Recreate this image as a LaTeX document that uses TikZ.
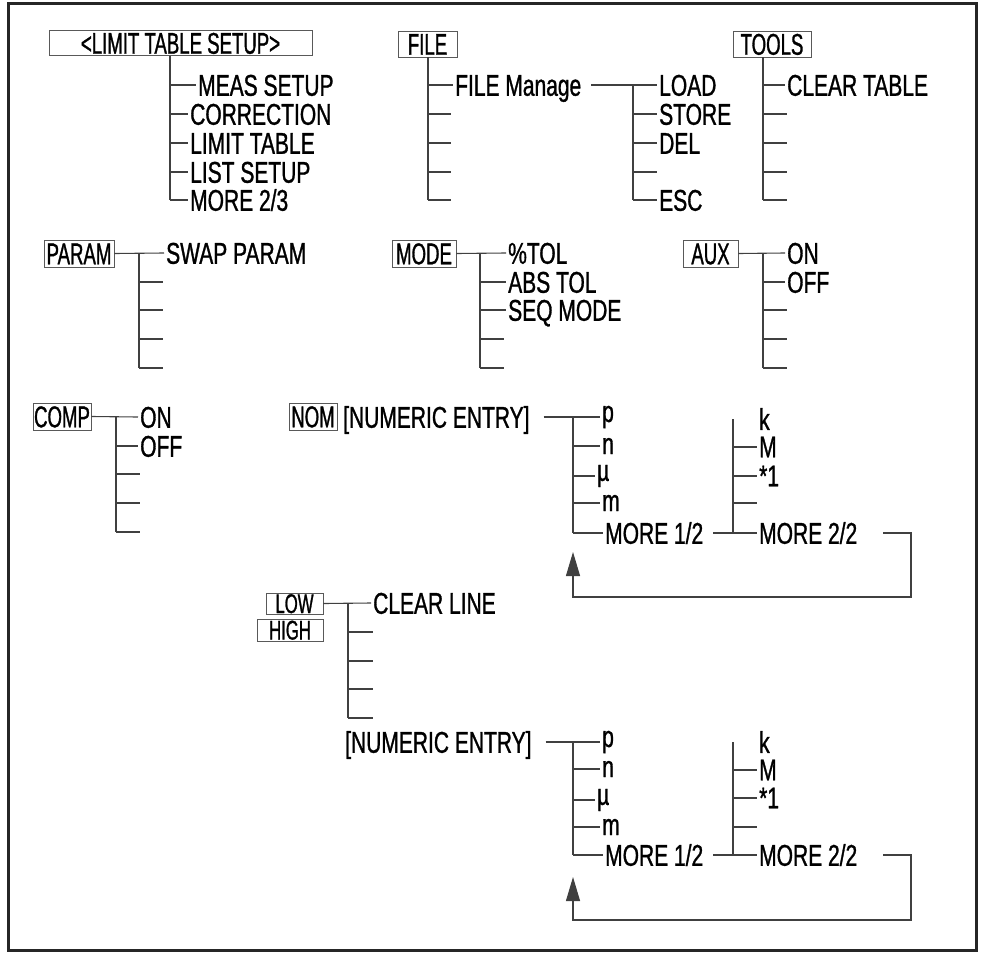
\documentclass[tikz,border=0pt]{standalone}
\usepackage{fontspec}
\setmainfont{Liberation Sans}[FakeStretch=0.7,FakeBold=1]
\newfontfamily\keyfont{Liberation Sans}[FakeStretch=0.62,FakeBold=1]
\usetikzlibrary{arrows.meta}
\begin{document}
\begin{tikzpicture}[x=1pt,y=-1pt,
  every node/.style={font=\fontsize{30}{30}\selectfont, text=black},
  lbl/.style={anchor=west,inner xsep=2pt,inner ysep=0pt,text height=21.5pt,text depth=0pt},
  lcl/.style={anchor=west,inner xsep=2pt,inner ysep=0pt},
  key/.style={draw=black!65,line width=0.9pt,inner sep=0pt,text height=21.5pt,text depth=0pt,font=\keyfont\fontsize{30}{30}\selectfont},
  smallkey/.style={key,text height=19pt,font=\keyfont\fontsize{27}{27}\selectfont},
  ln/.style={draw=black!75,line width=1.1pt},
  loopar/.style={arrows={-Triangle[length=24pt,width=14pt]}},
]
\useasboundingbox (0,0) rectangle (981,963);
\draw[line width=3pt,black!85] (8,4) rectangle (976,950);

% ---------- LIMIT TABLE SETUP ----------
\node[key,minimum width=263pt,minimum height=25pt] (lts) at (180.5,43) {<LIMIT TABLE SETUP>};
\coordinate (v1) at (170,200);
\node[lbl] (meas) at (196,85) {MEAS SETUP};
\node[lbl] (corr) at (188,114) {CORRECTION};
\node[lbl] (limt) at (188,143) {LIMIT TABLE};
\node[lbl] (lstp) at (188,172) {LIST SETUP};
\node[lbl] (mr23) at (188,200) {MORE 2/3};
\draw[ln] (lts.south -| v1) -- (v1);
\foreach \n in {meas,corr,limt,lstp,mr23} \draw[ln] (\n.west -| v1) -- (\n.west);

% ---------- FILE ----------
\node[key,minimum width=59pt,minimum height=26pt] (file) at (427.5,44) {FILE};
\coordinate (v2) at (428,200);
\node[lbl] (fm) at (453,85) {FILE Manage};
\coordinate (f2) at (451,114);
\coordinate (f3) at (451,143);
\coordinate (f4) at (451,172);
\coordinate (f5) at (451,200);
\draw[ln] (file.south -| v2) -- (v2);
\draw[ln] (fm.west -| v2) -- (fm.west);
\foreach \n in {f2,f3,f4,f5} \draw[ln] (\n -| v2) -- (\n);
\coordinate (v3) at (633,200);
\node[lbl] (load) at (657,85) {LOAD};
\node[lbl] (stor) at (657,114) {STORE};
\node[lbl] (del) at (657,143) {DEL};
\coordinate (g4) at (657,172);
\node[lbl] (esc) at (657,200) {ESC};
\draw[ln] ([xshift=8pt]fm.east) -- (load.west);
\draw[ln] (load.west -| v3) -- (v3);
\foreach \n in {stor,del,esc} \draw[ln] (\n.west -| v3) -- (\n.west);
\draw[ln] (g4 -| v3) -- (g4);

% ---------- TOOLS ----------
\node[key,minimum width=78pt,minimum height=26pt] (tools) at (772,44) {TOOLS};
\coordinate (v4) at (763,200);
\node[lbl] (clrt) at (785,85) {CLEAR TABLE};
\coordinate (t2) at (787,114);
\coordinate (t3) at (787,143);
\coordinate (t4) at (787,172);
\coordinate (t5) at (787,200);
\draw[ln] (tools.south -| v4) -- (v4);
\draw[ln] (clrt.west -| v4) -- (clrt.west);
\foreach \n in {t2,t3,t4,t5} \draw[ln] (\n -| v4) -- (\n);

% ---------- PARAM ----------
\node[key,minimum width=70pt,minimum height=27pt] (param) at (79,253.5) {PARAM};
\coordinate (v5) at (139,368);
\node[lbl] (swap) at (164,253) {SWAP PARAM};
\draw[ln] (param.east) -- (swap.west);
\draw[ln] (swap.west -| v5) -- (v5);
\foreach \y in {282,310,339,368} \draw[ln] (v5 |- 0,\y) -- (163,\y);

% ---------- MODE ----------
\node[key,minimum width=64pt,minimum height=27pt] (mode) at (424,253.5) {MODE};
\coordinate (v6) at (480,368);
\node[lbl] (ptol) at (506,253) {\%TOL};
\node[lbl] (atol) at (506,282) {ABS TOL};
\node[lbl] (seqm) at (506,310) {SEQ MODE};
\coordinate (o4) at (504,339);
\coordinate (o5) at (504,368);
\draw[ln] (mode.east) -- (ptol.west);
\draw[ln] (ptol.west -| v6) -- (v6);
\foreach \n in {atol,seqm} \draw[ln] (\n.west -| v6) -- (\n.west);
\foreach \n in {o4,o5} \draw[ln] (\n -| v6) -- (\n);

% ---------- AUX ----------
\node[key,minimum width=55pt,minimum height=27pt] (aux) at (710.5,253.5) {AUX};
\coordinate (v7) at (763,368);
\node[lbl] (aon) at (785,253) {ON};
\node[lbl] (aoff) at (785,282) {OFF};
\coordinate (a3) at (787,310);
\coordinate (a4) at (787,339);
\coordinate (a5) at (787,368);
\draw[ln] (aux.east) -- (aon.west);
\draw[ln] (aon.west -| v7) -- (v7);
\draw[ln] (aoff.west -| v7) -- (aoff.west);
\foreach \n in {a3,a4,a5} \draw[ln] (\n -| v7) -- (\n);

% ---------- COMP ----------
\node[key,minimum width=58pt,minimum height=27pt] (comp) at (62,416.5) {COMP};
\coordinate (v8) at (116,532);
\node[lbl] (con) at (138,417) {ON};
\node[lbl] (coff) at (138,446) {OFF};
\coordinate (c3) at (140,474);
\coordinate (c4) at (140,503);
\coordinate (c5) at (140,532);
\draw[ln] (comp.east) -- (con.west);
\draw[ln] (con.west -| v8) -- (v8);
\draw[ln] (coff.west -| v8) -- (coff.west);
\foreach \n in {c3,c4,c5} \draw[ln] (\n -| v8) -- (\n);

% ---------- NOM ----------
\node[key,minimum width=48pt,minimum height=27pt] (nom) at (313,416.5) {NOM};
\node[lbl] (ne1) at (341,417) {[NUMERIC ENTRY]};
\coordinate (v9) at (573,533);
\node[lcl] (p1) at (600,417) {p};
\node[lcl] (n1) at (600,446) {n};
\node[lcl] (mu1) at (595,476) {µ};
\node[lcl] (m1) at (600,503) {m};
\node[lbl] (mo1) at (603,533) {MORE 1/2};
\draw[ln] ([xshift=12pt]ne1.east) -- (p1.west);
\draw[ln] (p1.west -| v9) -- (v9);
\foreach \n in {n1,mu1,m1,mo1} \draw[ln] (\n.west -| v9) -- (\n.west);
\coordinate (v10) at (733,533);
\node[lcl] (k1) at (757,419) {k};
\node[lcl] (bm1) at (757,447) {M};
\node[lcl] (st1) at (757,476) {*1};
\coordinate (e1) at (757,503);
\node[lbl] (mo2) at (757,533) {MORE 2/2};
\draw[ln] ([xshift=8pt]mo1.east) -- (mo2.west);
\draw[ln] (k1.west -| v10) -- (v10);
\foreach \n in {bm1,st1} \draw[ln] (\n.west -| v10) -- (\n.west);
\draw[ln] (e1 -| v10) -- (e1);
\coordinate (la) at (883,533);
\coordinate (lb) at (911,597);
\coordinate (lt) at (573,552);
\draw[ln,loopar] (la) -| (lb) -| (lt);

% ---------- LOW / HIGH ----------
\node[smallkey,minimum width=57pt,minimum height=21pt] (low) at (294.5,603.5) {LOW};
\node[smallkey,minimum width=66pt,minimum height=22pt] (high) at (290,630) {HIGH};
\coordinate (v11) at (348,718);
\node[lbl] (clrl) at (371,603) {CLEAR LINE};
\draw[ln] (low.east) -- (clrl.west);
\draw[ln] (clrl.west -| v11) -- (v11);
\foreach \y in {632,661,689,718} \draw[ln] (v11 |- 0,\y) -- (373,\y);

% ---------- second NUMERIC ENTRY ----------
\node[lbl] (ne2) at (343,742) {[NUMERIC ENTRY]};
\coordinate (v12) at (573,855);
\node[lcl] (p2) at (600,742) {p};
\node[lcl] (n2) at (600,769) {n};
\node[lcl] (mu2) at (595,800) {µ};
\node[lcl] (m2) at (600,827) {m};
\node[lbl] (mo3) at (603,855) {MORE 1/2};
\draw[ln] ([xshift=12pt]ne2.east) -- (p2.west);
\draw[ln] (p2.west -| v12) -- (v12);
\foreach \n in {n2,mu2,m2,mo3} \draw[ln] (\n.west -| v12) -- (\n.west);
\coordinate (v13) at (733,855);
\node[lcl] (k2) at (757,742) {k};
\node[lcl] (bm2) at (757,770) {M};
\node[lcl] (st2) at (757,798) {*1};
\coordinate (e2) at (757,827);
\node[lbl] (mo4) at (757,855) {MORE 2/2};
\draw[ln] ([xshift=8pt]mo3.east) -- (mo4.west);
\draw[ln] (k2.west -| v13) -- (v13);
\foreach \n in {bm2,st2} \draw[ln] (\n.west -| v13) -- (\n.west);
\draw[ln] (e2 -| v13) -- (e2);
\coordinate (lA) at (883,855);
\coordinate (lB) at (911,920);
\coordinate (lT) at (573,877);
\draw[ln,loopar] (lA) -| (lB) -| (lT);
\end{tikzpicture}
\end{document}
